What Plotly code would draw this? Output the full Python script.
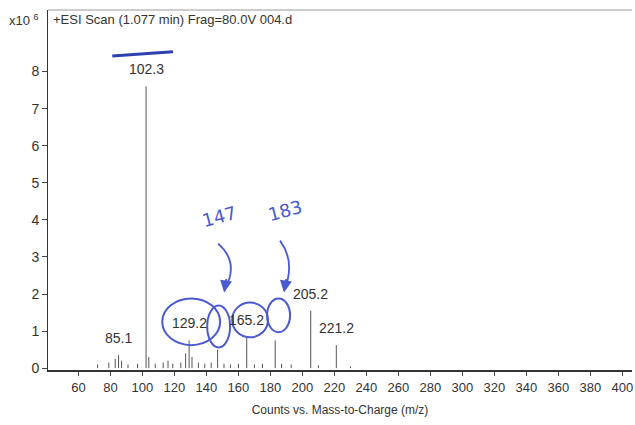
import plotly.graph_objects as go

# ---- data ----
mz = [72, 79, 83, 85.1, 87, 91, 97, 102.3, 104, 108, 113, 116, 119, 124, 127,
      129.2, 131, 135, 139, 143, 147, 151, 155, 160, 165.2, 170, 175, 183, 187,
      193, 205.2, 210, 221.2, 230]
counts = [0.10, 0.15, 0.25, 0.35, 0.20, 0.10, 0.12, 7.60, 0.30, 0.12, 0.15, 0.20,
          0.12, 0.15, 0.40, 0.75, 0.30, 0.15, 0.12, 0.15, 0.50, 0.12, 0.10, 0.12,
          0.85, 0.10, 0.12, 0.75, 0.12, 0.10, 1.55, 0.08, 0.62, 0.05]
labelled = ["85.1", "102.3", "129.2", "165.2", "205.2", "221.2"]
x_ticks = list(range(60, 401, 20))
y_ticks = list(range(0, 9))

FONT = "Liberation Sans, Arial"
INK = "#4a5ad0"

xs, ys = [], []
for m, c in zip(mz, counts):
    xs += [m, m, None]
    ys += [0, c, None]

fig = go.Figure()
fig.add_trace(go.Scatter(x=xs, y=ys, mode="lines",
                         line=dict(color="#555555", width=1), hoverinfo="skip",
                         showlegend=False))

for m, c in zip(mz, counts):
    if f"{m:.1f}" in labelled:
        fig.add_annotation(x=m, y=c, text=f"{m:.1f}", showarrow=False,
                           yanchor="bottom", yshift=7,
                           font=dict(family=FONT, size=14, color="#333"))

# handwritten circles
circles = [(112.4, 148.6, 0.62, 1.88), (140.5, 154.8, 0.56, 1.69),
           (156.1, 178.5, 0.83, 1.77), (177.9, 192.3, 0.97, 1.88)]
for x0, x1, y0, y1 in circles:
    fig.add_shape(type="circle", x0=x0, x1=x1, y0=y0, y1=y1,
                  line=dict(color=INK, width=2))

# handwritten arrows
for (sx, sy), (cx, cy), (ex, ey) in [((147.3, 3.36), (161.1, 2.85), (151.1, 2.09)),
                                     ((186.0, 3.44), (196.0, 2.85), (188.5, 2.09))]:
    fig.add_shape(type="path", path=f"M {sx},{sy} Q {cx},{cy} {ex},{ey}",
                  line=dict(color=INK, width=1.8))
    fig.add_annotation(x=ex, y=ey - 0.05, ax=ex + 1.5, ay=ey + 0.35,
                       xref="x", yref="y", axref="x", ayref="y",
                       showarrow=True, arrowhead=2, arrowsize=1.2, arrowwidth=2,
                       arrowcolor=INK, text="")

for t, x, y in [("147", 148, 4.1), ("183", 189, 4.25)]:
    fig.add_annotation(x=x, y=y, text=t, showarrow=False, textangle=-15,
                       font=dict(family="DejaVu Sans", size=18, color=INK))

# underline under retention time
fig.add_shape(type="line", xref="paper", yref="paper", x0=0.11, x1=0.214,
              y0=0.872, y1=0.884, line=dict(color="#3040b0", width=3))

fig.add_annotation(xref="paper", yref="paper", x=0, y=1, xshift=3,
                   text="+ESI Scan (1.077 min) Frag=80.0V 004.d", showarrow=False,
                   xanchor="left", yanchor="top",
                   font=dict(family=FONT, size=13, color="#333"))
fig.add_annotation(xref="paper", yref="paper", x=0, y=1, xshift=-7,
                   text="x10 <sup>6</sup>", showarrow=False,
                   xanchor="right", yanchor="top",
                   font=dict(family=FONT, size=13, color="#333"))

fig.update_layout(
    width=635, height=425, paper_bgcolor="white", plot_bgcolor="white",
    margin=dict(l=48, r=3, t=10, b=55),
    font=dict(family=FONT, size=13, color="#333"),
    xaxis=dict(range=[41, 406], tickvals=x_ticks, ticks="outside", ticklen=4,
               showgrid=False, zeroline=False, showline=True, linecolor="#333",
               linewidth=2, mirror=False, automargin=False,
               tickfont=dict(size=13),
               title=dict(text="Counts vs. Mass-to-Charge (m/z)",
                          font=dict(size=12), standoff=12)),
    yaxis=dict(range=[-0.05, 9.66], tickvals=y_ticks, ticks="outside", ticklen=5,
               showgrid=False, zeroline=False, showline=True, linecolor="#333",
               linewidth=1, automargin=False, tickfont=dict(size=14)),
)
fig.add_shape(type="line", xref="paper", yref="paper", x0=0, x1=1, y0=1, y1=1,
              line=dict(color="#999", width=1))

fig.write_html("out.html", config={"displayModeBar": False},
               post_script="document.body.style.margin='0';document.body.style.overflow='hidden';")
